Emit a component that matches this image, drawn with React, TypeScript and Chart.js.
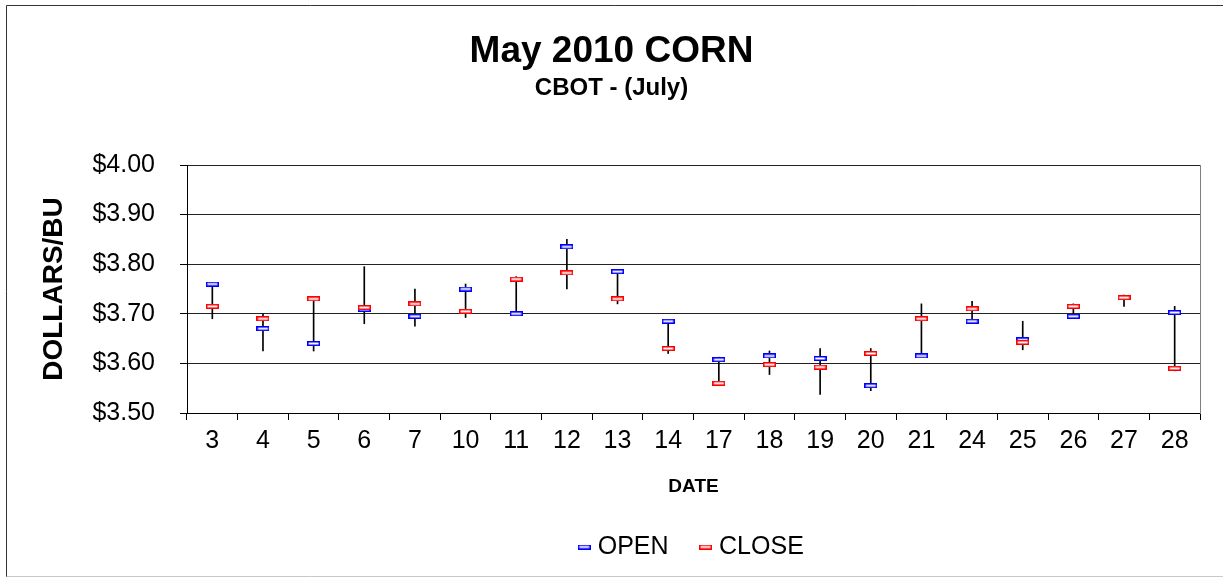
import React, { useEffect, useRef } from 'react';
import { Chart, registerables } from 'chart.js';

Chart.register(...registerables);

const DATES = ['3', '4', '5', '6', '7', '10', '11', '12', '13', '14', '17', '18', '19', '20', '21', '24', '25', '26', '27', '28'];
const OPEN = [3.76, 3.67, 3.64, 3.709, 3.695, 3.75, 3.70, 3.835, 3.785, 3.685, 3.6075, 3.615, 3.61, 3.555, 3.615, 3.685, 3.6475, 3.695, 3.7325, 3.7025];
const CLOSE = [3.715, 3.69, 3.73, 3.7125, 3.72, 3.705, 3.77, 3.7825, 3.73, 3.63, 3.56, 3.5975, 3.5925, 3.62, 3.69, 3.71, 3.6425, 3.715, 3.7325, 3.59];
const HIGH = [3.76, 3.70, 3.73, 3.795, 3.75, 3.76, 3.775, 3.85, 3.785, 3.685, 3.6125, 3.625, 3.63, 3.63, 3.72, 3.725, 3.685, 3.72, 3.7375, 3.715];
const LOW = [3.69, 3.625, 3.625, 3.68, 3.675, 3.6925, 3.70, 3.75, 3.72, 3.62, 3.555, 3.5775, 3.5375, 3.545, 3.615, 3.68, 3.6275, 3.695, 3.715, 3.585];
const Y_MIN = 3.5;
const Y_MAX = 4.0;
const Y_STEP = 0.1;

const FONT = "'Liberation Sans', Arial, sans-serif";

function makeMarker(color: string): HTMLCanvasElement {
  const c = document.createElement('canvas');
  c.width = 13;
  c.height = 5;
  const g = c.getContext('2d')!;
  g.fillStyle = '#ffffff';
  g.fillRect(0, 0, 13, 5);
  g.strokeStyle = color;
  g.lineWidth = 1.5;
  g.strokeRect(0.75, 0.75, 11.5, 3.5);
  return c;
}

const framePlugin = {
  id: 'frame',
  beforeDraw(chart: any) {
    const ctx = chart.ctx;
    ctx.save();
    ctx.fillStyle = '#ffffff';
    ctx.fillRect(0, 0, chart.width, chart.height);
    ctx.strokeStyle = '#333333';
    ctx.lineWidth = 1;
    ctx.beginPath();
    ctx.moveTo(6.5, 577);
    ctx.lineTo(6.5, 5.5);
    ctx.lineTo(1223, 5.5);
    ctx.stroke();
    ctx.strokeStyle = '#c8c8c8';
    ctx.beginPath();
    ctx.moveTo(6.5, 576.5);
    ctx.lineTo(1223, 576.5);
    ctx.stroke();
    ctx.restore();
  },
};

export default function App() {
  const ref = useRef<HTMLCanvasElement>(null);

  useEffect(() => {
    document.body.style.margin = '0';
    const canvas = ref.current!;
    const openMarker = makeMarker('#0000ff');
    const closeMarker = makeMarker('#ff0000');

    const chart = new Chart(canvas, {
      type: 'bar',
      data: {
        labels: DATES,
        datasets: [
          {
            type: 'line',
            label: 'OPEN',
            data: OPEN,
            showLine: false,
            pointStyle: openMarker as any,
            pointRadius: 6,
            borderColor: '#0000ff',
            backgroundColor: '#ffffff',
            order: 1,
          } as any,
          {
            type: 'line',
            label: 'CLOSE',
            data: CLOSE,
            showLine: false,
            pointStyle: closeMarker as any,
            pointRadius: 6,
            borderColor: '#ff0000',
            backgroundColor: '#ffffff',
            order: 0,
          } as any,
          {
            type: 'bar',
            label: 'RANGE',
            data: HIGH.map((h, i) => [LOW[i], h]),
            backgroundColor: '#000000',
            borderWidth: 0,
            barThickness: 1,
            order: 2,
          } as any,
        ],
      },
      options: {
        responsive: false,
        animation: false,
        events: [],
        layout: { padding: { top: 0, left: 0, right: 0, bottom: 8.5 } },
        plugins: {
          title: {
            display: true,
            text: 'May 2010 CORN',
            color: '#000',
            font: { family: FONT, size: 37, weight: 'bold' },
            padding: { top: 29.8, bottom: 0 },
          },
          subtitle: {
            display: true,
            text: 'CBOT - (July)',
            color: '#000',
            font: { family: FONT, size: 24, weight: 'bold' },
            padding: { top: 0, bottom: 62 },
          },
          legend: {
            display: true,
            position: 'bottom',
            fullSize: false,
            labels: {
              usePointStyle: true,
              pointStyleWidth: 2,
              padding: 36,
              color: '#000',
              font: { family: FONT, size: 25 },
              filter: (item: any) => item.text !== 'RANGE',
              sort: (a: any, b: any) => a.datasetIndex - b.datasetIndex,
            },
          },
          tooltip: { enabled: false },
        },
        scales: {
          x: {
            type: 'category',
            offset: true,
            grid: { offset: true, drawOnChartArea: false, drawTicks: true, tickLength: 7, tickColor: '#000' },
            border: { color: '#000', width: 1 },
            ticks: { color: '#000', font: { family: FONT, size: 25 }, padding: 6, autoSkip: false, maxRotation: 0 },
            title: {
              display: true,
              text: 'DATE',
              color: '#000',
              font: { family: FONT, size: 19, weight: 'bold' },
              padding: { top: 0, bottom: 0.5 },
            },
            afterFit: (s: any) => { s.height = 85.5; },
          },
          y: {
            type: 'linear',
            position: 'left',
            min: Y_MIN,
            max: Y_MAX,
            ticks: {
              stepSize: Y_STEP,
              color: '#000',
              font: { family: FONT, size: 25 },
              padding: 25,
              callback: (v: any) => '$' + Number(v).toFixed(2),
            },
            grid: { color: '#222', lineWidth: 1, tickLength: 7, tickColor: '#000' },
            border: { color: '#000', width: 1 },
            title: {
              display: true,
              text: 'DOLLARS/BU',
              color: '#000',
              font: { family: FONT, size: 28, weight: 'bold' },
              padding: { top: 37.2, bottom: 0 },
            },
            afterFit: (s: any) => { s.width = 187; },
          },
          y2: {
            type: 'linear',
            position: 'right',
            display: true,
            grid: { drawOnChartArea: false, drawTicks: false },
            ticks: { display: false },
            border: { display: true, color: '#808080', width: 1 },
            afterFit: (s: any) => { s.width = 23; },
          },
        },
      } as any,
      plugins: [framePlugin],
    });

    return () => chart.destroy();
  }, []);

  return (
    <div style={{ width: 1223, height: 578 }}>
      <canvas ref={ref} width={1223} height={578} style={{ display: 'block' }} />
    </div>
  );
}
